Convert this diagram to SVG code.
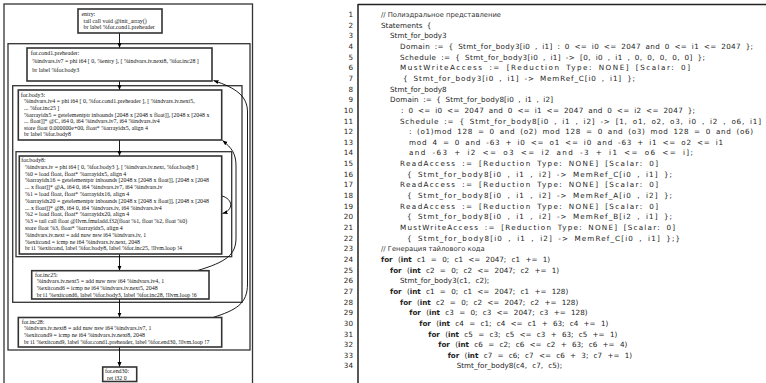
<svg xmlns="http://www.w3.org/2000/svg" width="766" height="383" viewBox="0 0 766 383">
<defs>
<style>
.frame{fill:none;stroke:#333;stroke-width:1.3}
.node rect{fill:#fff;stroke:#333;stroke-width:1.6}
.node text{font-family:"Liberation Serif","Times New Roman",serif;font-size:5.9px;fill:#111}
.edge{fill:none;stroke:#000;stroke-width:0.9}
.ln{font-family:"DejaVu Sans",sans-serif;font-size:7.2px;fill:#222;text-anchor:end}
.code{font-family:"DejaVu Sans",sans-serif;font-size:7.2px;fill:#222;word-spacing:2px}
.loop{word-spacing:3px}
.cm{font-family:"DejaVu Sans",sans-serif;font-size:6.8px;fill:#333}
.b{font-weight:bold}
</style>
<marker id="ah" markerUnits="userSpaceOnUse" viewBox="0 0 10 10" refX="10" refY="5" markerWidth="5" markerHeight="5" orient="auto"><path d="M0,1 L10,5 L0,9 z" fill="#000"/></marker>
</defs>
<rect width="766" height="383" fill="#fff"/>

<!-- CFG frames -->
<g id="frames">
<rect class="frame" x="4" y="4" width="248.5" height="380"/>
<rect class="frame" x="8" y="43.7" width="242" height="306.3"/>
<rect class="frame" x="12.7" y="85.7" width="229.3" height="216.6"/>
<rect class="frame" x="16" y="151.7" width="215.7" height="105"/>
</g>

<g id="connectors">
<path class="edge" d="M119.5,33 L119.5,48" marker-end="url(#ah)"/>
<path class="edge" d="M119.5,81 L119.5,90" marker-end="url(#ah)"/>
<path class="edge" d="M119.5,140 L119.5,156" marker-end="url(#ah)"/>
<path class="edge" d="M119.5,254 L119.5,270.7" marker-end="url(#ah)"/>
<path class="edge" d="M119.5,299 L119.5,317.5" marker-end="url(#ah)"/>
<path class="edge" d="M119.5,347 L119.5,367" marker-end="url(#ah)"/>
<path class="edge" d="M222,196 C233,199 234,210 222.5,213.5" marker-end="url(#ah)"/>
<path class="edge" d="M197,270.7 C226,262 236,255 236,238 L236,166 C236,154 232,148 222.5,140.5" marker-end="url(#ah)"/>
<path class="edge" d="M213,317.5 C236,310 247.5,304 247.5,284 L247.5,112 C247.5,96 236,88 213.5,80.5" marker-end="url(#ah)"/>
</g>

<g id="entry" class="node">
<rect x="78" y="9" width="84" height="24"/>
<text x="81.5" y="16">entry:</text>
<text x="83.5" y="22.5">tail call void @init_array()</text>
<text x="83.5" y="29">br label %for.cond1.preheader</text>
</g>

<g id="for.cond1.preheader" class="node">
<rect x="27" y="48" width="185" height="33"/>
<text x="30.7" y="55">for.cond1.preheader:</text>
<text x="32.3" y="63.3">%indvars.iv7 = phi i64 [ 0, %entry ], [ %indvars.iv.next8, %for.inc28 ]</text>
<text x="32.3" y="71.8">br label %for.body3</text>
</g>

<g id="for.body3" class="node">
<rect x="18.3" y="90" width="203.4" height="50"/>
<text x="20.7" y="96.5">for.body3:</text>
<text x="24" y="103.2">%indvars.iv4 = phi i64 [ 0, %for.cond1.preheader ], [ %indvars.iv.next5,</text>
<text x="24" y="109.8">... %for.inc25 ]</text>
<text x="24" y="116.5">%arrayidx5 = getelementptr inbounds [2048 x [2048 x float]], [2048 x [2048 x</text>
<text x="24" y="123.1">... float]]* @C, i64 0, i64 %indvars.iv7, i64 %indvars.iv4</text>
<text x="24" y="129.8">store float 0.000000e+00, float* %arrayidx5, align 4</text>
<text x="24" y="136.4">br label %for.body8</text>
</g>

<g id="for.body8" class="node">
<rect x="19.3" y="156" width="202.4" height="98"/>
<text x="21.3" y="162">for.body8:</text>
<text x="25" y="168.8">%indvars.iv = phi i64 [ 0, %for.body3 ], [ %indvars.iv.next, %for.body8 ]</text>
<text x="25" y="175.6">%0 = load float, float* %arrayidx5, align 4</text>
<text x="25" y="182.4">%arrayidx16 = getelementptr inbounds [2048 x [2048 x float]], [2048 x [2048</text>
<text x="25" y="189.2">... x float]]* @A, i64 0, i64 %indvars.iv7, i64 %indvars.iv</text>
<text x="25" y="196">%1 = load float, float* %arrayidx16, align 4</text>
<text x="25" y="202.8">%arrayidx20 = getelementptr inbounds [2048 x [2048 x float]], [2048 x [2048</text>
<text x="25" y="209.6">... x float]]* @B, i64 0, i64 %indvars.iv, i64 %indvars.iv4</text>
<text x="25" y="216.4">%2 = load float, float* %arrayidx20, align 4</text>
<text x="25" y="223.2">%3 = tail call float @llvm.fmuladd.f32(float %1, float %2, float %0)</text>
<text x="25" y="230">store float %3, float* %arrayidx5, align 4</text>
<text x="25" y="236.8">%indvars.iv.next = add nuw nsw i64 %indvars.iv, 1</text>
<text x="25" y="243.6">%exitcond = icmp ne i64 %indvars.iv.next, 2048</text>
<text x="25" y="250.4">br i1 %exitcond, label %for.body8, label %for.inc25, !llvm.loop !4</text>
</g>

<g id="for.inc25" class="node">
<rect x="31.7" y="270.7" width="177.3" height="28.3"/>
<text x="35" y="276.5">for.inc25:</text>
<text x="36.7" y="283.2">%indvars.iv.next5 = add nuw nsw i64 %indvars.iv4, 1</text>
<text x="36.7" y="289.9">%exitcond6 = icmp ne i64 %indvars.iv.next5, 2048</text>
<text x="36.7" y="296.6">br i1 %exitcond6, label %for.body3, label %for.inc28, !llvm.loop !6</text>
</g>

<g id="for.inc28" class="node">
<rect x="18.3" y="317.5" width="203.4" height="29.5"/>
<text x="21.7" y="323.6">for.inc28:</text>
<text x="24" y="330.3">%indvars.iv.next8 = add nuw nsw i64 %indvars.iv7, 1</text>
<text x="24" y="337">%exitcond9 = icmp ne i64 %indvars.iv.next8, 2048</text>
<text x="24" y="343.7">br i1 %exitcond9, label %for.cond1.preheader, label %for.end30, !llvm.loop !7</text>
</g>

<g id="for.end30" class="node">
<rect x="102.7" y="367" width="34" height="14.5"/>
<text x="105" y="373">for.end30:</text>
<text x="107" y="379.5">ret i32 0</text>
</g>

<!-- code listing -->
<g id="listing">
<path d="M358,4.5 L766,4.5 M358,4 L358,383" fill="none" stroke="#222" stroke-width="1.5"/>
<g class="ln">
<text x="353" y="17">1</text><text x="353" y="27.65">2</text><text x="353" y="38.3">3</text><text x="353" y="48.95">4</text><text x="353" y="59.6">5</text><text x="353" y="70.25">6</text><text x="353" y="80.9">7</text><text x="353" y="91.55">8</text><text x="353" y="102.2">9</text><text x="353" y="112.85">10</text><text x="353" y="123.5">11</text><text x="353" y="134.15">12</text><text x="353" y="144.8">13</text><text x="353" y="155.45">14</text><text x="353" y="166.1">15</text><text x="353" y="176.75">16</text><text x="353" y="187.4">17</text><text x="353" y="198.05">18</text><text x="353" y="208.7">19</text><text x="353" y="219.35">20</text><text x="353" y="230">21</text><text x="353" y="240.65">22</text><text x="353" y="251.3">23</text><text x="353" y="261.95">24</text><text x="353" y="272.6">25</text><text x="353" y="283.25">26</text><text x="353" y="293.9">27</text><text x="353" y="304.55">28</text><text x="353" y="315.2">29</text><text x="353" y="325.85">30</text><text x="353" y="336.5">31</text><text x="353" y="347.15">32</text><text x="353" y="357.8">33</text><text x="353" y="368.45">34</text>
</g>
<text class="cm" x="381" y="17">// Полиэдральное представление</text>
<g class="code">
<text x="381" y="27.65">Statements {</text>
<text x="390" y="38.3">Stmt_for_body3</text>
<text x="400" y="48.95" textLength="353" lengthAdjust="spacing">Domain := { Stmt_for_body3[i0 , i1] : 0 &lt;= i0 &lt;= 2047 and 0 &lt;= i1 &lt;= 2047 };</text>
<text x="400" y="59.6" textLength="305" lengthAdjust="spacing">Schedule := { Stmt_for_body3[i0 , i1] -&gt; [0, i0 , i1 , 0, 0, 0, 0, 0] };</text>
<text x="400" y="70.25" textLength="290" lengthAdjust="spacing">MustWriteAccess :=   [Reduction Type: NONE] [Scalar: 0]</text>
<text x="403" y="80.9" textLength="232" lengthAdjust="spacing">{ Stmt_for_body3[i0 , i1] -&gt; MemRef_C[i0 , i1] };</text>
<text x="390" y="91.55">Stmt_for_body8</text>
<text x="390" y="102.2" textLength="163" lengthAdjust="spacing">Domain := { Stmt_for_body8[i0 , i1 , i2]</text>
<text x="401" y="112.85" textLength="294" lengthAdjust="spacing">: 0 &lt;= i0 &lt;= 2047 and 0 &lt;= i1 &lt;= 2047 and 0 &lt;= i2 &lt;= 2047 };</text>
<text x="400" y="123.5" textLength="361" lengthAdjust="spacing">Schedule := { Stmt_for_body8[i0 , i1 , i2] -&gt; [1, o1, o2, o3, i0 , i2 , o6, i1]</text>
<text x="409" y="134.15" textLength="344" lengthAdjust="spacing">: (o1)mod 128 = 0 and (o2) mod 128 = 0 and (o3) mod 128 = 0 and (o6)</text>
<text x="409" y="144.8" textLength="314" lengthAdjust="spacing">mod 4 = 0 and -63 + i0 &lt;= o1 &lt;= i0 and -63 + i1 &lt;= o2 &lt;= i1</text>
<text x="409" y="155.45" textLength="284" lengthAdjust="spacing">and -63 + i2 &lt;= o3 &lt;= i2 and -3 + i1 &lt;= o6 &lt;= i];</text>
<text x="400" y="166.1" textLength="258" lengthAdjust="spacing">ReadAccess := [Reduction Type: NONE] [Scalar: 0]</text>
<text x="407" y="176.75" textLength="265" lengthAdjust="spacing">{ Stmt_for_body8[i0 , i1 , i2] -&gt; MemRef_C[i0 , i1] };</text>
<text x="400" y="187.4" textLength="258" lengthAdjust="spacing">ReadAccess := [Reduction Type: NONE] [Scalar: 0]</text>
<text x="407" y="198.05" textLength="265" lengthAdjust="spacing">{ Stmt_for_body8[i0 , i1 , i2] -&gt; MemRef_A[i0 , i2] };</text>
<text x="400" y="208.7" textLength="258" lengthAdjust="spacing">ReadAccess := [Reduction Type: NONE] [Scalar: 0]</text>
<text x="407" y="219.35" textLength="265" lengthAdjust="spacing">{ Stmt_for_body8[i0 , i1 , i2] -&gt; MemRef_B[i2 , i1] };</text>
<text x="400" y="230" textLength="275" lengthAdjust="spacing">MustWriteAccess := [Reduction Type: NONE] [Scalar: 0]</text>
<text x="407" y="240.65" textLength="273" lengthAdjust="spacing">{ Stmt_for_body8[i0 , i1 , i2] -&gt; MemRef_C[i0 , i1] };}</text>
</g>
<text class="cm" x="381" y="251.3">// Генерация тайлового кода</text>
<g class="code loop">
<text x="381" y="261.95"><tspan class="b">for</tspan> (<tspan class="b">int</tspan> c1 = 0; c1 &lt;= 2047; c1 += 1)</text>
<text x="390" y="272.6"><tspan class="b">for</tspan> (<tspan class="b">int</tspan> c2 = 0; c2 &lt;= 2047; c2 += 1)</text>
<text x="400" y="283.25">Stmt_for_body3(c1, c2);</text>
<text x="390" y="293.9"><tspan class="b">for</tspan> (<tspan class="b">int</tspan> c1 = 0; c1 &lt;= 2047; c1 += 128)</text>
<text x="400" y="304.55"><tspan class="b">for</tspan> (<tspan class="b">int</tspan> c2 = 0; c2 &lt;= 2047; c2 += 128)</text>
<text x="409.3" y="315.2"><tspan class="b">for</tspan> (<tspan class="b">int</tspan> c3 = 0; c3 &lt;= 2047; c3 += 128)</text>
<text x="419.3" y="325.85"><tspan class="b">for</tspan> (<tspan class="b">int</tspan> c4 = c1; c4 &lt;= c1 + 63; c4 += 1)</text>
<text x="428.3" y="336.5"><tspan class="b">for</tspan> (<tspan class="b">int</tspan> c5 = c3; c5 &lt;= c3 + 63; c5 += 1)</text>
<text x="438.3" y="347.15"><tspan class="b">for</tspan> (<tspan class="b">int</tspan> c6 = c2; c6 &lt;= c2 + 63; c6 += 4)</text>
<text x="447.7" y="357.8"><tspan class="b">for</tspan> (<tspan class="b">int</tspan> c7 = c6; c7 &lt;= c6 + 3; c7 += 1)</text>
<text x="456.7" y="368.45">Stmt_for_body8(c4, c7, c5);</text>
</g>
</g>
</svg>
